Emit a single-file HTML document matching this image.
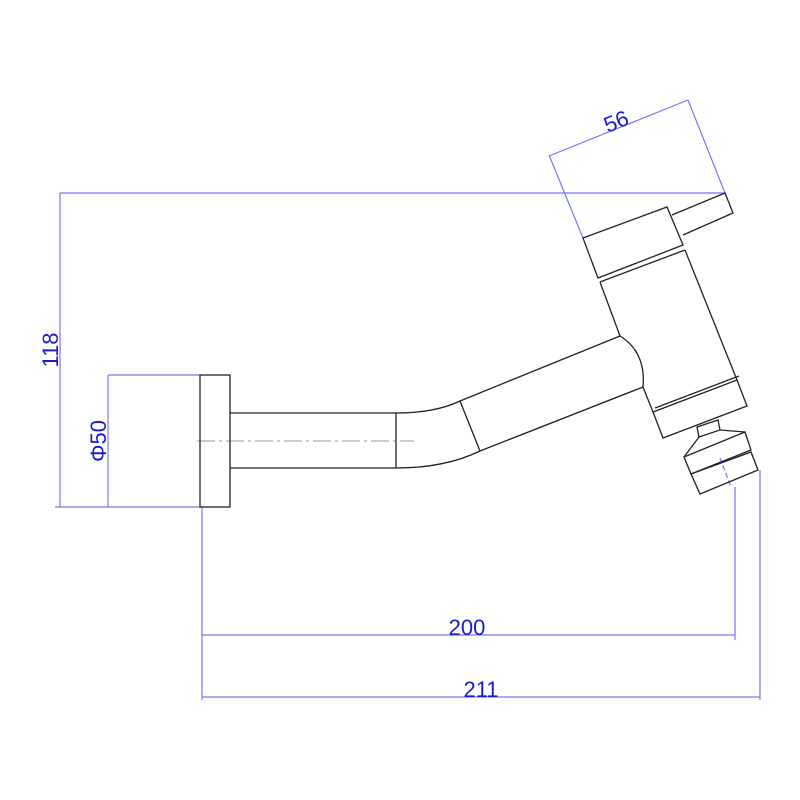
<!DOCTYPE html>
<html><head><meta charset="utf-8"><style>body{margin:0;background:#fff}svg{display:block}</style></head><body>
<svg width="800" height="800" viewBox="0 0 800 800" xmlns="http://www.w3.org/2000/svg">
<g stroke="#7777ee" stroke-width="1.2" fill="none">
<line x1="60" y1="193" x2="725" y2="193"/>
<line x1="60" y1="193" x2="60" y2="507"/>
<line x1="55" y1="507" x2="200" y2="507"/>
<line x1="108" y1="375" x2="200" y2="375"/>
<line x1="108" y1="375" x2="108" y2="507"/>
<line x1="202" y1="507" x2="202" y2="700"/>
<line x1="202" y1="635" x2="735" y2="635"/>
<line x1="735" y1="487" x2="735" y2="640"/>
<line x1="202" y1="697" x2="760" y2="697"/>
<line x1="760" y1="470" x2="760" y2="700"/>
<line x1="583" y1="238" x2="549" y2="155"/>
<line x1="725" y1="193" x2="688" y2="100"/>
<line x1="549" y1="156" x2="688" y2="100"/>
<line x1="720" y1="458" x2="731" y2="487" stroke-dasharray="5,3"/>
</g>
<g fill="none" stroke="#999" stroke-width="1">
<line x1="197" y1="441" x2="414" y2="441" stroke-dasharray="18,4,3,4"/>
</g>
<g fill="none" stroke="#222" stroke-width="1.3">
<rect x="200" y="375" width="30" height="132"/>
<path d="M230 413 H396 Q435 413 460 401 L620 336 Q646 352 643 387 L480 451 Q445 468 396 468 H230"/>
<line x1="396" y1="413" x2="396" y2="468"/>
<line x1="460" y1="401" x2="480" y2="451"/>
<path d="M583 238 L667 207 L683 245 L598 278 Z"/>
<line x1="600" y1="282" x2="685" y2="250"/>
<path d="M600 282 L620 336 M643 387 L653 412 L737 380 L685 250"/>
<path d="M653 412 L663 438 L747 406 L737 380"/>
<line x1="655" y1="408" x2="739" y2="376"/>
<path d="M672 215 L725 193 L733 213 L683 235"/>
<path d="M697 427 L718 420 L720 430 L699 437 Z"/>
<path d="M699 437 L684 457 M720 430 L745 432"/>
<path d="M684 457 L745 432 L751 450 L691 474 Z"/>
<path d="M691 474 L751 452 L758 470 L700 494 Z"/>
</g>
<g fill="#1a1ad0" font-family="Liberation Sans, sans-serif" font-size="22">
<text x="467" y="635" text-anchor="middle">200</text>
<text x="481" y="697" text-anchor="middle">211</text>
<text x="616" y="129" text-anchor="middle" transform="rotate(-22 616 121)">56</text>
<text transform="translate(58 350) rotate(-90)" text-anchor="middle">118</text>
<text transform="translate(106 441) rotate(-90)" text-anchor="middle">Φ50</text>
</g>
</svg>
</body></html>
